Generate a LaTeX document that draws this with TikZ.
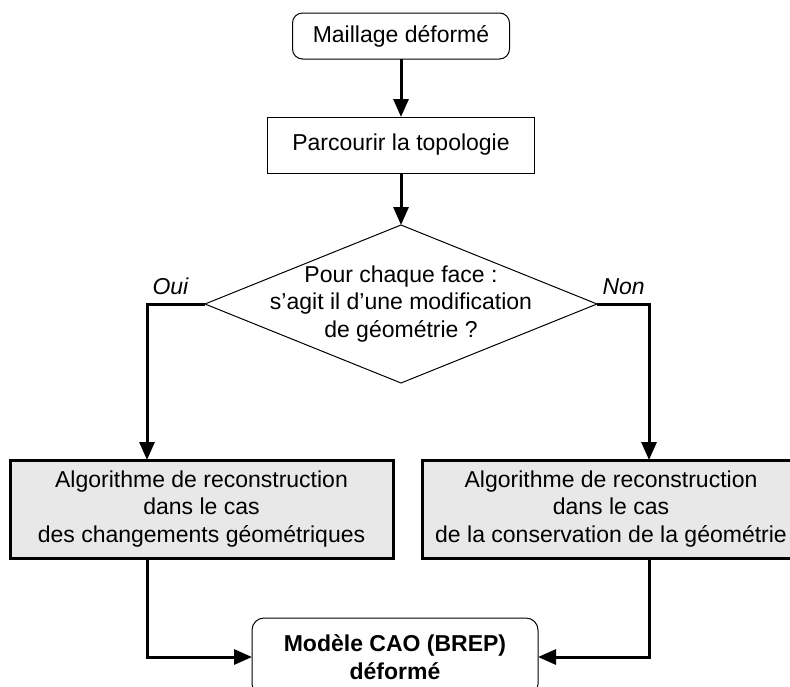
\documentclass[tikz,border=0pt]{standalone}
\usepackage{fontspec}
\setmainfont{Liberation Sans}
\usetikzlibrary{arrows.meta,positioning,shapes.geometric}
\definecolor{algogray}{RGB}{232,232,232}

\begin{document}
\begin{tikzpicture}[
    font=\fontsize{11.5}{13.75}\selectfont,
    start/.style={draw, rounded corners=5pt, line width=0.5pt, align=center, minimum width=108.5pt, minimum height=23pt, outer sep=0pt},
    proc/.style={draw, line width=0.5pt, align=center, minimum width=133.5pt, minimum height=28pt, outer sep=0pt},
    decision/.style={draw, diamond, line width=0.5pt, minimum width=196pt, minimum height=79pt, inner sep=0pt, outer sep=0pt},
    algo/.style={draw, line width=1.5pt, fill=algogray, align=center, minimum width=191.5pt, minimum height=49pt, outer sep=0pt},
    result/.style={draw, rounded corners=6pt, line width=0.5pt, align=center, minimum width=143pt, minimum height=39pt, font=\fontsize{11.5}{13.75}\selectfont\bfseries, outer sep=0pt},
    choice/.style={font=\fontsize{11.5}{13.75}\selectfont\itshape, inner sep=2pt},
    arr/.style={-{Triangle[length=9pt,width=7.5pt]}, line width=1.5pt}
  ]
    \useasboundingbox (0,0) rectangle (395pt,-343pt);
    \node[start] (maillage) at (200.5pt,-18pt) {Maillage déformé};
    \node[proc, below=29pt of maillage] (parcours) {Parcourir la topologie};
    \node[decision, below=26pt of parcours, label={[align=center]center:Pour chaque face :\\s’agit il d’une modification\\de géométrie ?}] (test) {};
    \node[algo, below=38.5pt of test, xshift=-99.75pt] (algogeo) {Algorithme de reconstruction\\dans le cas\\des changements géométriques};
    \node[algo, minimum width=189pt, below=38.5pt of test, xshift=105pt] (algocons) {Algorithme de reconstruction\\dans le cas\\de la conservation de la géométrie};
    \node[result, below=117.5pt of test, xshift=-3pt] (modele) {Modèle CAO (BREP)\\déformé};
    \draw[arr] (maillage) -- (parcours);
    \draw[arr] (parcours) -- (test);
    \draw[arr] (test.west) -| node[choice, pos=0.5, above right, yshift=2pt] {Oui} ([xshift=-27.25pt]algogeo.north);
    \draw[arr] (test.east) -| node[choice, pos=0, above right, yshift=2pt] {Non} ([xshift=19pt]algocons.north);
    \draw[arr] ([xshift=-27.25pt]algogeo.south) |- (modele.west);
    \draw[arr] ([xshift=19pt]algocons.south) |- (modele.east);
  \end{tikzpicture}
\end{document}
